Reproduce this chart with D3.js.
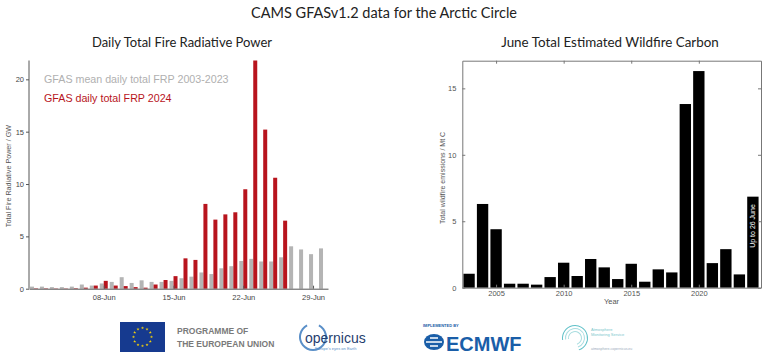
<!DOCTYPE html>
<html>
<head>
<meta charset="utf-8">
<script src="https://cdn.jsdelivr.net/npm/d3@7"></script>
<style>
  html, body { margin: 0; padding: 0; background: #fff; }
  svg { display: block; }
</style>
</head>
<body>
<svg id="chart" width="768" height="358"></svg>
<script>
// ---------------- DATA ----------------
const days = d3.range(1, 31); // June 1 .. June 30
const frpMean = [0.2, 0.2, 0.15, 0.15, 0.2, 0.4, 0.3, 0.5, 0.65, 1.1,
                 0.55, 0.8, 0.65, 0.65, 0.75, 1.0, 1.15, 1.55, 1.4, 1.95,
                 2.15, 2.65, 2.85, 2.6, 2.6, 3.0, 4.05, 3.75, 3.3, 3.85];
const frp2024 = [0.04, 0.04, 0.03, 0.03, 0.05, 0.1, 0.3, 0.75, 0.3, 0.25,
                 0.15, 0.1, 0.4, 0.83, 1.2, 2.9, 2.75, 8.1, 6.6, 7.1,
                 7.3, 9.5, 21.8, 15.2, 10.6, 6.5];
const frpTickDays = [8, 15, 22, 29];
const frpTickLabels = ["08-Jun", "15-Jun", "22-Jun", "29-Jun"];
const frpYTicks = [0, 5, 10, 15, 20];

const years = d3.range(2003, 2025);
const carbon = [1.05, 6.3, 4.4, 0.3, 0.3, 0.23, 0.8, 1.88, 0.88, 2.16,
                1.53, 0.65, 1.8, 0.45, 1.38, 1.15, 13.82, 16.3, 1.85, 2.9,
                1.0, 6.85];
const carbonYTicks = [0, 5, 10, 15];
const carbonXTicks = [2005, 2010, 2015, 2020];

const mainTitle = "CAMS GFASv1.2 data for the Arctic Circle";
const leftTitle = "Daily Total Fire Radiative Power";
const rightTitle = "June Total Estimated Wildfire Carbon";
const legendLabels = ["GFAS mean daily total FRP 2003-2023", "GFAS daily total FRP 2024"];

// ---------------- DRAW ----------------
const svg = d3.select("#chart");
const titleFont = "Lato, 'Open Sans', sans-serif";
const axisFont = "'Liberation Sans', Arial, sans-serif";
const RED = "#b8141d", GREY = "#b4b4b4";

svg.append("text").attr("x", 384).attr("y", 18).attr("text-anchor", "middle")
  .attr("font-family", titleFont).attr("font-size", 14.5).attr("fill", "#222").text(mainTitle);
svg.append("text").attr("x", 182).attr("y", 47).attr("text-anchor", "middle")
  .attr("font-family", titleFont).attr("font-size", 13).attr("fill", "#222").text(leftTitle);
svg.append("text").attr("x", 610).attr("y", 47).attr("text-anchor", "middle")
  .attr("font-family", titleFont).attr("font-size", 13.4).attr("fill", "#222").text(rightTitle);

// ---- Left chart ----
const L = { x0: 29, x1: 328, y0: 288.7, y1: 60.5 };
const xL = d3.scaleLinear().domain([0.5, 30.5]).range([L.x0, L.x1]);
const yL = d3.scaleLinear().domain([0, 21.8]).range([L.y0, L.y1]);
const bw = 4;

const gL = svg.append("g");
gL.selectAll("rect.mean").data(days).join("rect").attr("class", "mean")
  .attr("x", d => xL(d) - bw).attr("width", bw)
  .attr("y", (d, i) => yL(frpMean[i])).attr("height", (d, i) => yL(0) - yL(frpMean[i]))
  .attr("fill", GREY);
gL.selectAll("rect.y2024").data(days.slice(0, frp2024.length)).join("rect").attr("class", "y2024")
  .attr("x", d => xL(d)).attr("width", bw)
  .attr("y", (d, i) => yL(frp2024[i])).attr("height", (d, i) => yL(0) - yL(frp2024[i]))
  .attr("fill", RED);

const yAxisL = d3.axisLeft(yL).tickValues(frpYTicks).tickSize(3).tickPadding(2);
const gyL = svg.append("g").attr("transform", `translate(${L.x0},0)`).call(yAxisL);
const xAxisL = d3.axisBottom(xL).tickValues(frpTickDays)
  .tickFormat((d, i) => frpTickLabels[i]).tickSizeInner(-3).tickSizeOuter(0).tickPadding(6);
const gxL = svg.append("g").attr("transform", `translate(0,${L.y0})`).call(xAxisL);
[gyL, gxL].forEach(g => {
  g.select(".domain").attr("stroke", "#555");
  g.selectAll(".tick line").attr("stroke", "#555");
  g.selectAll(".tick text").attr("font-family", axisFont).attr("font-size", 7.5).attr("fill", "#444");
});
gyL.select(".domain").attr("d", `M0,${L.y0}V${L.y1}`);

svg.append("text").attr("transform", "translate(11,176) rotate(-90)").attr("text-anchor", "middle")
  .attr("font-family", axisFont).attr("font-size", 7.2).attr("fill", "#555")
  .text("Total Fire Radiative Power / GW");

svg.append("text").attr("x", 44).attr("y", 83).attr("font-family", axisFont)
  .attr("font-size", 10.7).attr("fill", "#b0b0b0").text(legendLabels[0]);
svg.append("text").attr("x", 44).attr("y", 102).attr("font-family", axisFont)
  .attr("font-size", 10.7).attr("fill", RED).text(legendLabels[1]);

// ---- Right chart ----
const R = { x0: 462.3, x1: 761, y0: 287.7, y1: 60.7 };
const xR = d3.scaleLinear().domain([2002.5, 2024.6]).range([R.x0, R.x1]);
const yR = d3.scaleLinear().domain([0, 17.08]).range([R.y0, R.y1]);
const rbw = xR(2003.42) - xR(2002.58);

svg.append("g").selectAll("rect").data(years).join("rect")
  .attr("x", d => xR(d) - rbw / 2).attr("width", rbw)
  .attr("y", (d, i) => yR(carbon[i])).attr("height", (d, i) => yR(0) - yR(carbon[i]))
  .attr("fill", "#000");

const axR = [
  svg.append("g").attr("transform", `translate(${R.x0},0)`)
    .call(d3.axisLeft(yR).tickValues(carbonYTicks).tickSizeInner(-3).tickSizeOuter(0).tickPadding(6)),
  svg.append("g").attr("transform", `translate(${R.x1},0)`)
    .call(d3.axisRight(yR).tickValues(carbonYTicks).tickSizeInner(-3).tickSizeOuter(0).tickFormat("")),
  svg.append("g").attr("transform", `translate(0,${R.y0})`)
    .call(d3.axisBottom(xR).tickValues(carbonXTicks).tickFormat(d3.format("d")).tickSizeInner(-3).tickSizeOuter(0).tickPadding(3)),
  svg.append("g").attr("transform", `translate(0,${R.y1})`)
    .call(d3.axisTop(xR).tickValues(carbonXTicks).tickSizeInner(-3).tickSizeOuter(0).tickFormat(""))
];
axR.forEach(g => {
  g.select(".domain").attr("stroke", "#777");
  g.selectAll(".tick line").attr("stroke", "#777");
  g.selectAll(".tick text").attr("font-family", axisFont).attr("font-size", 7.5).attr("fill", "#555");
});

svg.append("text").attr("transform", "translate(445,178) rotate(-90)").attr("text-anchor", "middle")
  .attr("font-family", axisFont).attr("font-size", 7).attr("fill", "#555")
  .text("Total wildfire emissions / Mt C");
svg.append("text").attr("x", 611.5).attr("y", 303.5).attr("text-anchor", "middle")
  .attr("font-family", axisFont).attr("font-size", 7.5).attr("fill", "#555").text("Year");

svg.append("text")
  .attr("transform", `translate(${xR(2024) + 2.6},226) rotate(-90)`)
  .attr("text-anchor", "middle")
  .attr("font-family", axisFont).attr("font-size", 7).attr("fill", "#fff")
  .text("Up to 26 June");

// ---- Footer logos (approximations) ----
const foot = svg.append("g");
// EU flag
foot.append("rect").attr("x", 120).attr("y", 322).attr("width", 45).attr("height", 30).attr("fill", "#163a8f");
const star = d3.symbol().type(d3.symbolStar).size(3);
foot.selectAll("path.star").data(d3.range(12)).join("path").attr("class", "star")
  .attr("d", star)
  .attr("transform", d => `translate(${142.5 + 9 * Math.cos(d * Math.PI / 6)},${337 + 9 * Math.sin(d * Math.PI / 6)})`)
  .attr("fill", "#f5d20a");
foot.append("text").attr("x", 177).attr("y", 334).attr("font-family", axisFont).attr("font-weight", "bold")
  .attr("font-size", 8.5).attr("fill", "#7a7a7a").text("PROGRAMME OF");
foot.append("text").attr("x", 177).attr("y", 347).attr("font-family", axisFont).attr("font-weight", "bold")
  .attr("font-size", 8.5).attr("fill", "#7a7a7a").text("THE EUROPEAN UNION");
// Copernicus
foot.append("path").attr("d", d3.arc()({ innerRadius: 12, outerRadius: 14, startAngle: Math.PI * 0.15, endAngle: Math.PI * 1.85 }))
  .attr("transform", "translate(313,337)").attr("fill", "#5a8fc8");
foot.append("text").attr("x", 305).attr("y", 343).attr("font-family", axisFont)
  .attr("font-size", 14).attr("fill", "#1f3d6e").text("opernicus");
foot.append("text").attr("x", 315).attr("y", 350).attr("font-family", axisFont)
  .attr("font-size", 4).attr("fill", "#5a8fc8").text("Europe's eyes on Earth");
// ECMWF
foot.append("text").attr("x", 423).attr("y", 327).attr("font-family", axisFont).attr("font-weight", "bold")
  .attr("font-size", 4).attr("fill", "#1a5ea8").text("IMPLEMENTED BY");
foot.append("ellipse").attr("cx", 434).attr("cy", 342).attr("rx", 10).attr("ry", 8).attr("fill", "#1a5ea8");
foot.append("path").attr("d", "M426,342h16M430,338h8M430,346h8").attr("stroke", "#fff").attr("stroke-width", 1.5);
foot.append("text").attr("x", 446).attr("y", 351).attr("font-family", axisFont).attr("font-weight", "bold")
  .attr("font-size", 20).attr("fill", "#1a5ea8").text("ECMWF");
// Atmosphere Monitoring Service
[13, 10, 7].forEach((r, i) => {
  foot.append("path").attr("d", d3.arc()({ innerRadius: r - 1, outerRadius: r, startAngle: -Math.PI * 0.55, endAngle: Math.PI * 0.9 }))
    .attr("transform", "translate(575,338)").attr("fill", i === 0 ? "#5fc0c8" : "#a9dde0");
});
foot.append("text").attr("x", 591).attr("y", 331).attr("font-family", axisFont)
  .attr("font-size", 4).attr("fill", "#7cc7cc").text("Atmosphere");
foot.append("text").attr("x", 591).attr("y", 336).attr("font-family", axisFont)
  .attr("font-size", 4).attr("fill", "#7cc7cc").text("Monitoring Service");
foot.append("text").attr("x", 591).attr("y", 350).attr("font-family", axisFont)
  .attr("font-size", 3.5).attr("fill", "#9ab").text("atmosphere.copernicus.eu");
</script>
</body>
</html>
